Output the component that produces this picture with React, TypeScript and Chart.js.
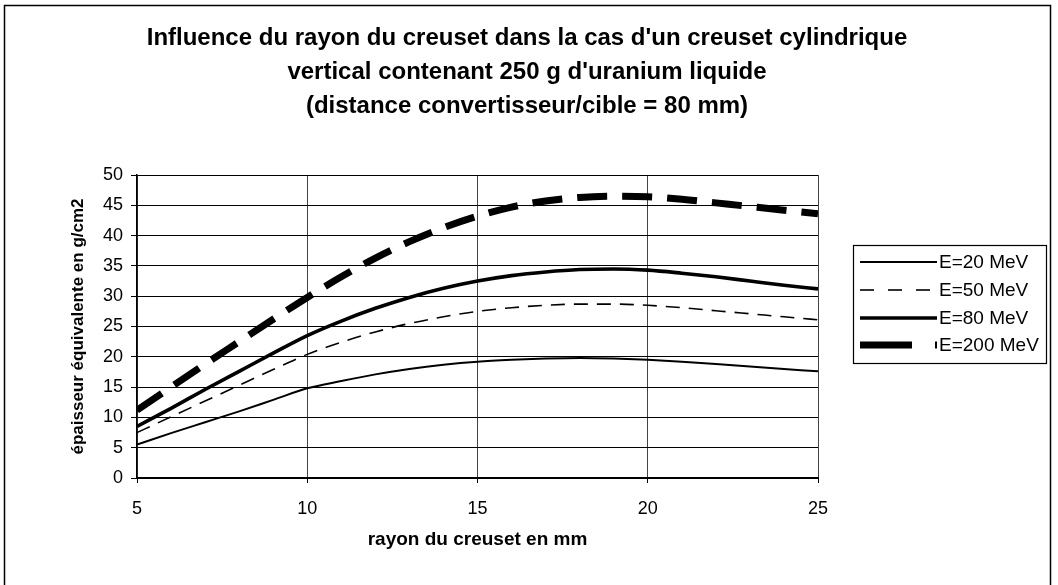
import React, { useEffect, useRef } from "react";
import { Chart, registerables } from "chart.js";

Chart.register(...registerables);

// ---- data ----
const rayon = [5, 6, 7, 8, 9, 10, 11, 12, 13, 14, 15, 16, 17, 18, 19, 20, 21, 22, 23, 24, 25];
const e20 = [5.5, 7.4, 9.2, 11.0, 12.9, 14.8, 16.0, 17.1, 18.0, 18.7, 19.2, 19.5, 19.7, 19.8, 19.7, 19.5, 19.2, 18.8, 18.4, 18.0, 17.6];
const e50 = [7.5, 10.1, 12.7, 15.3, 17.9, 20.4, 22.4, 24.1, 25.5, 26.6, 27.5, 28.1, 28.5, 28.7, 28.7, 28.5, 28.1, 27.6, 27.1, 26.6, 26.1];
const e80 = [8.5, 11.5, 14.6, 17.6, 20.6, 23.5, 25.9, 28.0, 29.8, 31.3, 32.5, 33.4, 34.0, 34.4, 34.5, 34.3, 33.8, 33.2, 32.5, 31.8, 31.2];
const e200 = [11.2, 15.0, 18.8, 22.5, 26.2, 29.8, 33.2, 36.3, 39.0, 41.3, 43.2, 44.7, 45.7, 46.3, 46.5, 46.4, 46.0, 45.4, 44.8, 44.2, 43.6];

const seriesLabels = ["E=20 MeV", "E=50 MeV", "E=80 MeV", "E=200 MeV"];
const titleLines = [
  "Influence du rayon du creuset dans la cas d'un creuset cylindrique",
  "vertical contenant 250 g d'uranium liquide",
  "(distance convertisseur/cible = 80 mm)",
];
const xTitle = "rayon du creuset en mm";
const yTitle = "épaisseur équivalente en g/cm2";
const xRange = [5, 25];
const yRange = [0, 50];
const tickStep = 5;

const FONT = "Arial, 'Liberation Sans', Helvetica, sans-serif";

const lineWidths = [2, 1.6, 3.6, 7];
const lineDashes: number[][] = [[], [14, 9], [], [30, 15]];
const legendDashes: number[][] = [[], [14, 14], [], [52, 23]];

const decorPlugin = {
  id: "decor",
  beforeDraw(chart: any) {
    const ctx = chart.ctx;
    ctx.save();
    ctx.fillStyle = "#ffffff";
    ctx.fillRect(0, 0, chart.width, chart.height);
    ctx.strokeStyle = "#000";
    ctx.lineWidth = 1.5;
    ctx.strokeRect(4.5, 5.5, 1046, 600);
    ctx.restore();
  },
  afterDraw(chart: any) {
    const ctx = chart.ctx;
    ctx.save();
    // title
    ctx.fillStyle = "#000";
    ctx.font = `bold 24px ${FONT}`;
    ctx.textAlign = "center";
    ctx.textBaseline = "middle";
    const ty = [38, 72, 106];
    titleLines.forEach((t, i) => ctx.fillText(t, 527, ty[i]));

    // legend
    const bx = 853, by = 245, bw = 193, bh = 118;
    ctx.strokeStyle = "#000";
    ctx.lineWidth = 1.2;
    ctx.strokeRect(bx + 0.5, by + 0.5, bw, bh);
    const rowY = [262, 290, 318, 345];
    chart.data.datasets.forEach((ds: any, i: number) => {
      const y = rowY[i];
      ctx.save();
      ctx.strokeStyle = "#000";
      ctx.lineWidth = ds.borderWidth;
      ctx.setLineDash(legendDashes[i]);
      ctx.beginPath();
      ctx.moveTo(860, y);
      ctx.lineTo(937, y);
      ctx.stroke();
      ctx.restore();
      ctx.fillStyle = "#000";
      ctx.font = `19px ${FONT}`;
      ctx.textAlign = "left";
      ctx.textBaseline = "middle";
      ctx.fillText(ds.label, 939, y + 1);
    });
    ctx.restore();
  },
};

export default function App() {
  const ref = useRef<HTMLCanvasElement | null>(null);

  useEffect(() => {
    if (!ref.current) return;
    const series = [e20, e50, e80, e200];
    const chart = new Chart(ref.current, {
      type: "line",
      data: {
        datasets: series.map((s, i) => ({
          label: seriesLabels[i],
          data: s.map((v, j) => ({ x: rayon[j], y: v })),
          borderColor: "#000",
          backgroundColor: "#000",
          borderWidth: lineWidths[i],
          borderDash: lineDashes[i],
          pointRadius: 0,
          fill: false,
          cubicInterpolationMode: "monotone",
          borderCapStyle: "butt",
        })),
      },
      options: {
        animation: false,
        responsive: false,
        devicePixelRatio: 1,
        layout: { padding: { left: 0, top: 175, right: 240, bottom: 34 } },
        plugins: {
          legend: { display: false },
          title: { display: false },
          tooltip: { enabled: false },
        },
        scales: {
          x: {
            type: "linear",
            min: xRange[0],
            max: xRange[1],
            afterFit: (s: any) => {
              s.height = 73;
            },
            ticks: {
              stepSize: tickStep,
              color: "#000",
              padding: 15,
              font: { family: FONT, size: 18 },
            },
            grid: {
              color: "#444",
              lineWidth: 1,
              tickLength: 5,
              tickColor: "#000",
            },
            border: { color: "#000", width: 2 },
            title: {
              display: true,
              text: xTitle,
              color: "#000",
              font: { family: FONT, size: 19, weight: "bold" },
              padding: { top: 0, bottom: 0 },
            },
          },
          y: {
            min: yRange[0],
            max: yRange[1],
            afterFit: (s: any) => {
              s.width = 137;
            },
            ticks: {
              stepSize: tickStep,
              color: "#000",
              padding: 8,
              font: { family: FONT, size: 18 },
            },
            grid: {
              color: "#000",
              lineWidth: 1,
              tickLength: 6,
              tickColor: "#000",
            },
            border: { color: "#000", width: 1.5 },
            title: {
              display: true,
              text: yTitle,
              color: "#000",
              font: { family: FONT, size: 17, weight: "bold" },
              padding: { top: 68, bottom: 0 },
            },
          },
        },
      },
      plugins: [decorPlugin],
    } as any);
    return () => chart.destroy();
  }, []);

  return (
    <div style={{ position: "fixed", left: 0, top: 0, width: 1058, height: 585, background: "#fff" }}>
      <canvas ref={ref} width={1058} height={585} style={{ width: 1058, height: 585, display: "block" }} />
    </div>
  );
}
